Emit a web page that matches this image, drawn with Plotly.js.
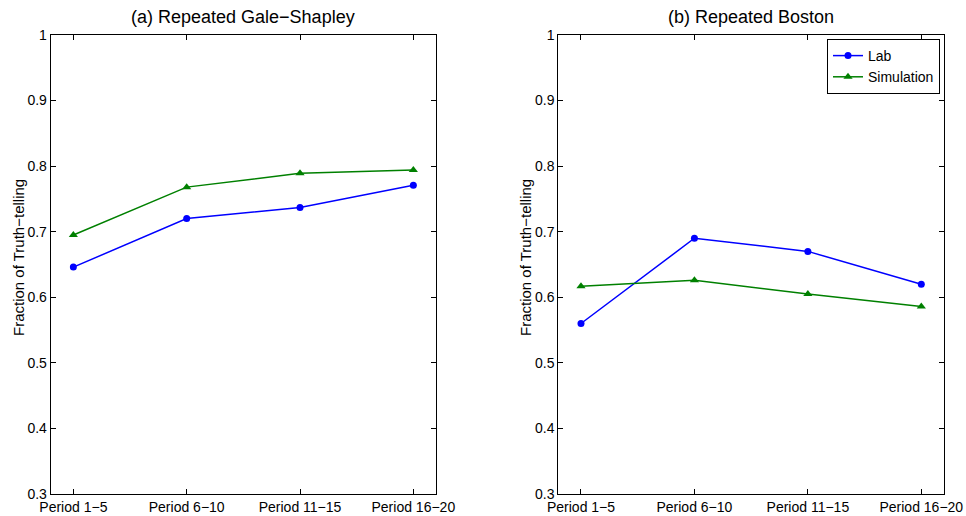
<!DOCTYPE html>
<html>
<head>
<meta charset="utf-8">
<script src="https://cdn.plot.ly/plotly-3.0.1.min.js"></script>
<style>
  html, body { margin: 0; padding: 0; background: #fff; }
  #chart { width: 966px; height: 516px; }
</style>
</head>
<body>
<div id="chart"></div>
<script>
// Period groups shared by both panels
const periods = ["Period 1\u22125", "Period 6\u221210", "Period 11\u221215", "Period 16\u221220"];

// (a) Repeated Gale-Shapley
const gsLab = [0.646, 0.720, 0.737, 0.771];
const gsSim = [0.695, 0.768, 0.789, 0.794];

// (b) Repeated Boston
const bosLab = [0.560, 0.690, 0.670, 0.620];
const bosSim = [0.617, 0.626, 0.605, 0.586];

const yTicks = [0.3, 0.4, 0.5, 0.6, 0.7, 0.8, 0.9, 1];
const yTickText = ["0.3", "0.4", "0.5", "0.6", "0.7", "0.8", "0.9", "1"];

const FONT = "Liberation Sans, Arial, Helvetica, sans-serif";
const BLUE = "rgb(0,0,255)";
const GREEN = "rgb(0,128,0)";

const xIdx = periods.map((_, i) => i);

function labTrace(y, xa, ya, show) {
  return {
    x: xIdx, y: y, xaxis: xa, yaxis: ya, name: "Lab",
    type: "scatter", mode: "lines+markers", showlegend: show,
    line: { color: BLUE, width: 1.5 },
    marker: { color: BLUE, symbol: "circle", size: 7 }
  };
}
function simTrace(y, xa, ya, show) {
  return {
    x: xIdx, y: y, xaxis: xa, yaxis: ya, name: "Simulation",
    type: "scatter", mode: "lines+markers", showlegend: show,
    line: { color: GREEN, width: 1.5 },
    marker: { color: GREEN, symbol: "triangle-up", size: 8 }
  };
}

const data = [
  labTrace(gsLab, "x", "y", false),
  simTrace(gsSim, "x", "y", false),
  labTrace(bosLab, "x2", "y2", true),
  simTrace(bosSim, "x2", "y2", true)
];

const W = 966, H = 516;
const plotTop = 35, plotBottom = 494;
const yDom = [(H - plotBottom) / H, (H - plotTop) / H];

function xAxis(domain, anchor) {
  return {
    domain: domain, anchor: anchor, range: [-0.2, 3.2],
    tickmode: "array", tickvals: xIdx, ticktext: periods,
    ticks: "inside", ticklen: 5, tickwidth: 1, tickcolor: "#000",
    showline: true, linecolor: "#000", linewidth: 1, mirror: "allticks",
    showgrid: false, zeroline: false, fixedrange: true,
    tickfont: { family: FONT, size: 14, color: "#000" },
    ticklabelstandoff: 0
  };
}
function yAxis(domain, anchor) {
  return {
    domain: domain, anchor: anchor, range: [0.3, 1],
    tickmode: "array", tickvals: yTicks, ticktext: yTickText,
    ticks: "inside", ticklen: 5, tickwidth: 1, tickcolor: "#000",
    showline: true, linecolor: "#000", linewidth: 1, mirror: "allticks",
    showgrid: false, zeroline: false, fixedrange: true,
    tickfont: { family: FONT, size: 14, color: "#000" },
    ticklabelstandoff: 0
  };
}

const leftDom = [50.7 / W, 436 / W];
const rightDom = [558.3 / W, 944 / W];

const layout = {
  width: W, height: H,
  margin: { l: 0, r: 0, t: 0, b: 0 },
  paper_bgcolor: "#fff", plot_bgcolor: "#fff",
  font: { family: FONT, color: "#000" },
  showlegend: true,
  xaxis: xAxis(leftDom, "y"),
  yaxis: yAxis(yDom, "x"),
  xaxis2: xAxis(rightDom, "y2"),
  yaxis2: yAxis(yDom, "x2"),
  legend: {
    x: 940 / W, xanchor: "right", y: 1 - 39 / H, yanchor: "top",
    bgcolor: "#fff", bordercolor: "#000", borderwidth: 1,
    font: { family: FONT, size: 14, color: "#000" },
    itemwidth: 30, tracegroupgap: 0
  },
  annotations: [
    { text: "(a) Repeated Gale\u2212Shapley", xref: "paper", yref: "paper",
      x: (leftDom[0] + leftDom[1]) / 2, y: 1 - 17 / H, xanchor: "center", yanchor: "middle",
      showarrow: false, font: { family: FONT, size: 18, color: "#000" } },
    { text: "(b) Repeated Boston", xref: "paper", yref: "paper",
      x: (rightDom[0] + rightDom[1]) / 2, y: 1 - 17 / H, xanchor: "center", yanchor: "middle",
      showarrow: false, font: { family: FONT, size: 18, color: "#000" } },
    { text: "Fraction of Truth\u2212telling", xref: "paper", yref: "paper",
      x: 18 / W, y: 1 - 258 / H, xanchor: "center", yanchor: "middle", textangle: -90,
      showarrow: false, font: { family: FONT, size: 15, color: "#000" } },
    { text: "Fraction of Truth\u2212telling", xref: "paper", yref: "paper",
      x: 525 / W, y: 1 - 258 / H, xanchor: "center", yanchor: "middle", textangle: -90,
      showarrow: false, font: { family: FONT, size: 15, color: "#000" } }
  ]
};

Plotly.newPlot("chart", data, layout, { staticPlot: true, displayModeBar: false });
</script>
</body>
</html>
